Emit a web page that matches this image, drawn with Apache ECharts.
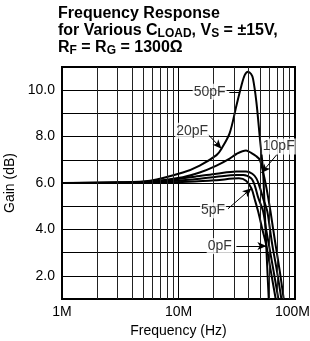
<!DOCTYPE html>
<html>
<head>
<meta charset="utf-8">
<script src="https://cdn.jsdelivr.net/npm/echarts@6/dist/echarts.min.js"></script>
<style>
html, body { margin: 0; padding: 0; background: #fff; }
#chart { width: 310px; height: 341px; }
</style>
</head>
<body>
<div id="chart"></div>
<script>
// data (frequency in MHz, gain in dB)
var freq50 = [1, 3, 5.7, 10.9, 15.2, 21.2, 23.4, 27.5, 31.4, 34.7, 37, 39.5, 42, 43.6, 46.6, 49.8, 53.1, 55, 57, 59.5];
var gain50 = [6.0, 6.03, 6.1, 6.45, 6.75, 7.2, 7.48, 8.15, 9.33, 10.2, 10.65, 10.8, 10.7, 10.5, 9.5, 8.0, 6.55, 4.8, 3.0, 1.0];

var freq20 = [1, 3, 5.7, 10.9, 15.2, 21.2, 27.5, 31.4, 38, 42, 46.6, 49.8, 52.5, 56.8, 61.5, 65, 68.3, 74, 80];
var gain20 = [6.0, 6.02, 6.07, 6.25, 6.45, 6.75, 7.05, 7.25, 7.4, 7.3, 7.15, 7.0, 6.6, 5.8, 4.8, 4.0, 3.3, 2.2, 1.0];

var freq10 = [1, 5.7, 13.8, 21.2, 31.4, 38, 43, 46.6, 50, 53.5, 57.7, 61, 64, 70, 76.4];
var gain10 = [6.0, 6.05, 6.27, 6.4, 6.5, 6.5, 6.4, 6.2, 5.8, 5.3, 4.8, 4.0, 3.3, 2.2, 1.0];

var freq5 = [1, 5.7, 13.8, 21.2, 31.4, 36, 42, 45.1, 48.1, 53.1, 56.5, 59.9, 65.5, 72];
var gain5 = [6.0, 6.03, 6.16, 6.27, 6.35, 6.35, 6.2, 5.9, 5.4, 4.8, 4.0, 3.3, 2.2, 1.0];

var freq0 = [1, 5.7, 13.8, 21.2, 33, 38, 42.3, 45.1, 48.1, 52.5, 56.8, 62, 68.3];
var gain0 = [6.0, 6.01, 6.06, 6.12, 6.2, 6.1, 5.77, 5.3, 4.8, 4.0, 3.3, 2.2, 1.0];

var xTickLabels = {1: '1M', 10: '10M', 100: '{m|100M}'};
var minorFreqs = [2, 3, 4, 5, 6, 7, 8, 9, 20, 30, 40, 50, 60, 70, 80, 90];

// curve labels and their pointers
var labelNames = ['50pF', '20pF', '10pF', '5pF', '0pF'];
var labelPos = [[18.5, 9.93], [13.1, 8.25], [72.5, 7.57], [19.8, 4.82], [22.6, 3.28]];
var pointerFrom = [[27.3, 9.93], [17.9, 8.1], [70.0, 7.23], [26.6, 4.89], [31.4, 3.28]];
var pointerTo = [[33.3, 9.93], [23.4, 7.48], [51.5, 6.43], [42.3, 5.77], [56.8, 3.28]];
var pointerArrow = [false, true, true, true, true];

function pairs(f, g) {
    var out = [];
    for (var i = 0; i < f.length; i++) out.push([f[i], g[i]]);
    return out;
}

var myChart = echarts.init(document.getElementById('chart'));

var font = 'Liberation Sans, Arial, Helvetica, sans-serif';

var curves = [[freq50, gain50], [freq20, gain20], [freq10, gain10], [freq5, gain5], [freq0, gain0]];
var series = [];

// minor log grid lines
series.push({
    type: 'line',
    data: [],
    silent: true,
    z: 1,
    markLine: {
        silent: true,
        symbol: ['none', 'none'],
        label: { show: false },
        lineStyle: { color: '#222', width: 1, type: 'solid' },
        data: minorFreqs.map(function (f) { return { xAxis: f }; })
    }
});

curves.forEach(function (c, i) {
    series.push({
        name: labelNames[i],
        type: 'line',
        data: pairs(c[0], c[1]),
        smooth: 0.3,
        showSymbol: false,
        symbol: 'none',
        lineStyle: { color: '#000', width: 2 },
        z: 3
    });
});

var arrows = [];
for (var i = 0; i < labelNames.length; i++) {
    arrows.push([
        { coord: pointerFrom[i], symbol: 'none' },
        { coord: pointerTo[i], symbol: pointerArrow[i] ? 'arrow' : 'none', symbolSize: [6, 9] }
    ]);
}

series.push({
    type: 'scatter',
    symbolSize: 0,
    z: 5,
    silent: true,
    data: labelNames.map(function (n, i) { return { name: n, value: labelPos[i] }; }),
    label: {
        show: true,
        position: 'inside',
        formatter: '{b}',
        color: '#000',
        fontFamily: font,
        fontSize: 14,
        backgroundColor: '#fff',
        padding: [1, 1]
    },
    markLine: {
        silent: true,
        symbol: ['none', 'arrow'],
        label: { show: false },
        lineStyle: { color: '#000', width: 1, type: 'solid' },
        data: arrows
    }
});

option = {
    animation: false,
    backgroundColor: '#fff',
    title: {
        left: 58,
        top: 5,
        padding: 0,
        text: '{t|Frequency Response}\n{t|for Various C}{s|LOAD}{t|, V}{s|S}{t| = ±15V,}\n{t|R}{s|F}{t| = R}{s|G}{t| = 1300Ω}',
        textStyle: {
            rich: {
                t: { fontFamily: font, fontWeight: 'bold', fontSize: 16, lineHeight: 17, color: '#000' },
                s: { fontFamily: font, fontWeight: 'bold', fontSize: 12, lineHeight: 17, color: '#000', padding: [7, 0, 0, 0] }
            }
        }
    },
    grid: {
        left: 62,
        right: 15,
        top: 67,
        bottom: 42,
        outerBoundsMode: 'none',
        containLabel: false,
        show: true,
        borderColor: '#000',
        borderWidth: 2
    },
    xAxis: {
        type: 'log',
        logBase: 10,
        min: 1,
        max: 100,
        name: 'Frequency (Hz)',
        nameLocation: 'middle',
        nameGap: 24,
        nameTextStyle: { fontFamily: font, fontSize: 14, color: '#000' },
        axisLine: { lineStyle: { color: '#000', width: 2 } },
        axisTick: { show: false },
        axisLabel: {
            fontFamily: font, fontSize: 14, color: '#000', margin: 6,
            formatter: function (v) { return xTickLabels[Math.round(v)] || ''; },
            rich: { m: { fontFamily: font, fontSize: 14, color: '#000', padding: [0, 5, 0, 0] } }
        },
        splitLine: { show: true, lineStyle: { color: '#000', width: 1 } }
    },
    yAxis: {
        type: 'value',
        min: 1,
        max: 11,
        interval: 1,
        name: 'Gain (dB)',
        nameLocation: 'middle',
        nameGap: 45,
        nameTextStyle: { fontFamily: font, fontSize: 14, color: '#000' },
        axisLine: { show: true, lineStyle: { color: '#000', width: 2 } },
        axisTick: { show: false },
        axisLabel: {
            fontFamily: font, fontSize: 14, color: '#000', margin: 7,
            formatter: function (v) { return v % 2 === 0 ? v.toFixed(1) : ''; }
        },
        splitLine: { show: true, lineStyle: { color: '#000', width: 1 } }
    },
    series: series
};

myChart.setOption(option);
</script>
</body>
</html>
